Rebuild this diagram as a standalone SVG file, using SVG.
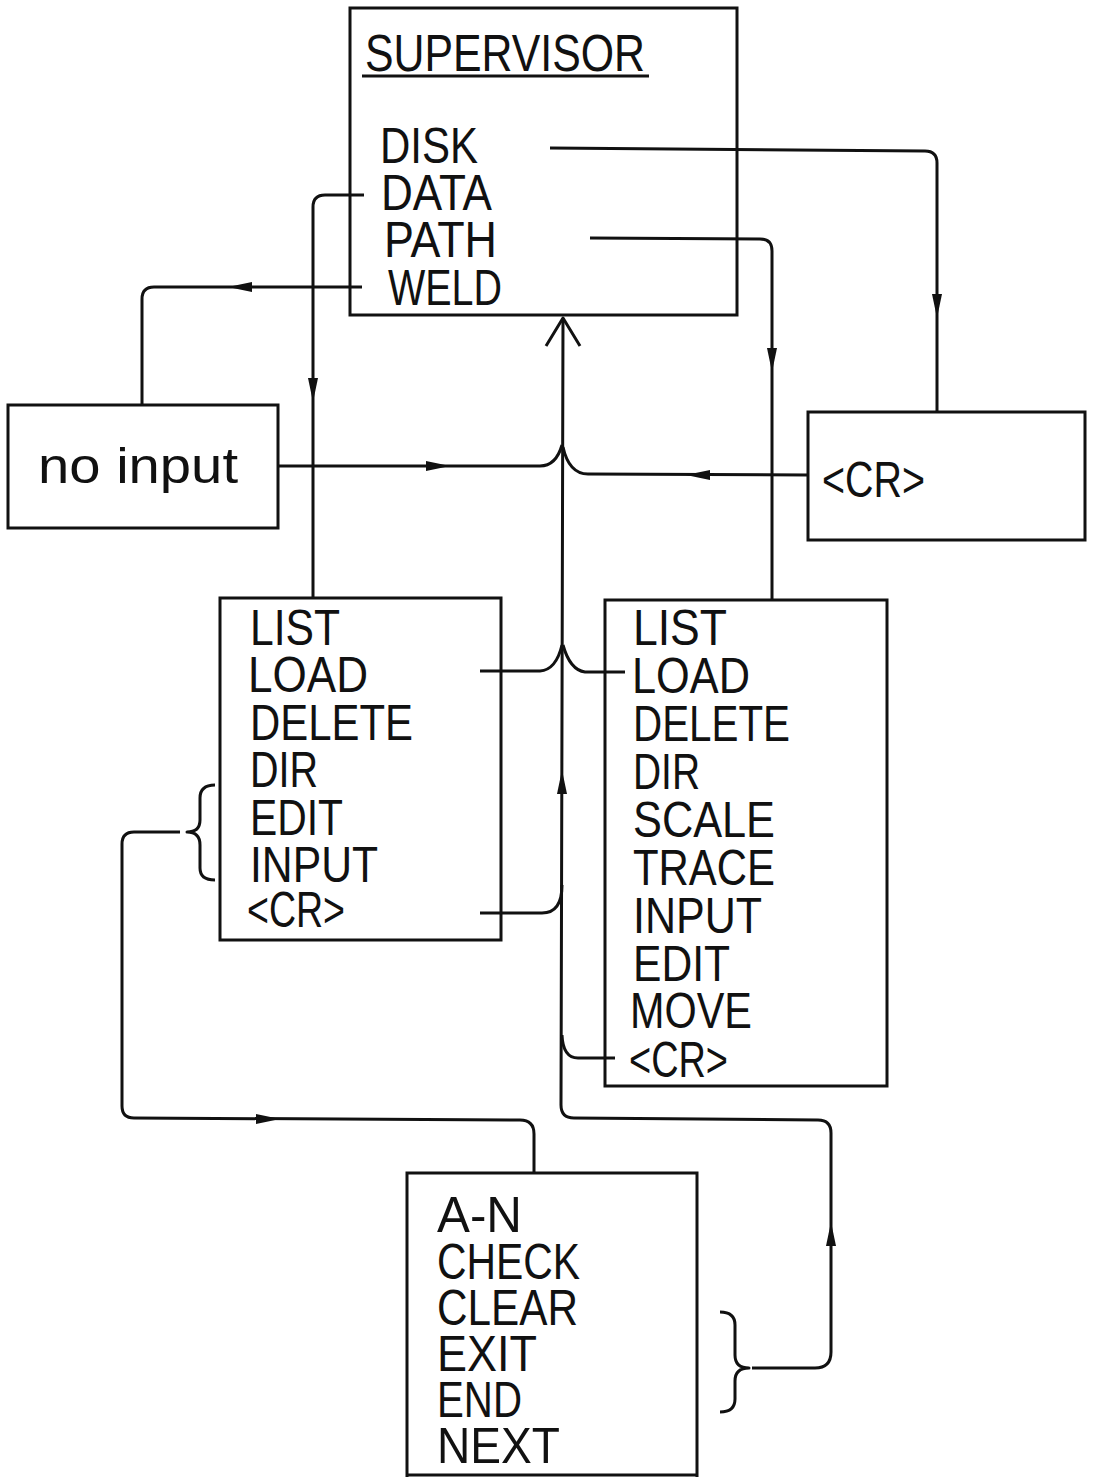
<svg xmlns="http://www.w3.org/2000/svg" xmlns:xlink="http://www.w3.org/1999/xlink" width="1093" height="1477" viewBox="0 0 1093 1477">
<style>
.box{fill:none;stroke:#111;stroke-width:3}
.ln{fill:none;stroke:#111;stroke-width:3;stroke-linejoin:round}
.t{font-family:"Liberation Sans","DejaVu Sans",sans-serif;font-size:50px;fill:#111}
.h{font-size:52px}
.ah{fill:#111}
</style>
<defs>
<path id="ah" d="M0,0 L-24,-5 L-24,5 Z"/>
</defs>
<rect width="1093" height="1477" fill="#fff"/>
<g id="supervisor">
<rect class="box" x="350" y="8" width="387" height="307"/>
<text class="t h" x="365" y="71" textLength="280" lengthAdjust="spacingAndGlyphs">SUPERVISOR</text>
<line class="ln" x1="362" y1="76" x2="649" y2="76"/>
<text class="t" x="380" y="163" textLength="98" lengthAdjust="spacingAndGlyphs">DISK</text>
<text class="t" x="381" y="210" textLength="111" lengthAdjust="spacingAndGlyphs">DATA</text>
<text class="t" x="384" y="257" textLength="113" lengthAdjust="spacingAndGlyphs">PATH</text>
<text class="t" x="388" y="305" textLength="114" lengthAdjust="spacingAndGlyphs">WELD</text>
</g>
<g id="no-input">
<rect class="box" x="8" y="405" width="270" height="123"/>
<text class="t" x="38" y="483" textLength="200" lengthAdjust="spacingAndGlyphs">no input</text>
</g>
<g id="cr">
<rect class="box" x="808" y="412" width="277" height="128"/>
<text class="t" x="822" y="497" textLength="103" lengthAdjust="spacingAndGlyphs">&lt;CR&gt;</text>
</g>
<g id="data-menu">
<rect class="box" x="220" y="598" width="281" height="342"/>
<text class="t" x="250" y="645" textLength="90" lengthAdjust="spacingAndGlyphs">LIST</text>
<text class="t" x="248" y="692" textLength="120" lengthAdjust="spacingAndGlyphs">LOAD</text>
<text class="t" x="250" y="740" textLength="163" lengthAdjust="spacingAndGlyphs">DELETE</text>
<text class="t" x="250" y="787" textLength="68" lengthAdjust="spacingAndGlyphs">DIR</text>
<text class="t" x="250" y="835" textLength="93" lengthAdjust="spacingAndGlyphs">EDIT</text>
<text class="t" x="250" y="882" textLength="128" lengthAdjust="spacingAndGlyphs">INPUT</text>
<text class="t" x="247" y="927" textLength="98" lengthAdjust="spacingAndGlyphs">&lt;CR&gt;</text>
<path class="ln" d="M215,785 Q200,785 200,798 L200,820 Q200,832 187,832 Q200,832 200,845 L200,868 Q200,880 215,880"/>
</g>
<g id="path-menu">
<rect class="box" x="605" y="600" width="282" height="486"/>
<text class="t" x="633" y="645" textLength="94" lengthAdjust="spacingAndGlyphs">LIST</text>
<text class="t" x="632" y="693" textLength="118" lengthAdjust="spacingAndGlyphs">LOAD</text>
<text class="t" x="633" y="741" textLength="157" lengthAdjust="spacingAndGlyphs">DELETE</text>
<text class="t" x="633" y="789" textLength="67" lengthAdjust="spacingAndGlyphs">DIR</text>
<text class="t" x="633" y="837" textLength="142" lengthAdjust="spacingAndGlyphs">SCALE</text>
<text class="t" x="633" y="885" textLength="142" lengthAdjust="spacingAndGlyphs">TRACE</text>
<text class="t" x="633" y="933" textLength="129" lengthAdjust="spacingAndGlyphs">INPUT</text>
<text class="t" x="633" y="981" textLength="97" lengthAdjust="spacingAndGlyphs">EDIT</text>
<text class="t" x="630" y="1028" textLength="122" lengthAdjust="spacingAndGlyphs">MOVE</text>
<text class="t" x="629" y="1077" textLength="99" lengthAdjust="spacingAndGlyphs">&lt;CR&gt;</text>
</g>
<g id="edit-menu">
<polyline class="box" points="407,1477 407,1173 697,1173 697,1477"/>
<line class="ln" x1="407" y1="1475" x2="697" y2="1475"/>
<text class="t" x="437" y="1232" textLength="85" lengthAdjust="spacingAndGlyphs">A-N</text>
<text class="t" x="437" y="1279" textLength="143" lengthAdjust="spacingAndGlyphs">CHECK</text>
<text class="t" x="437" y="1325" textLength="141" lengthAdjust="spacingAndGlyphs">CLEAR</text>
<text class="t" x="437" y="1371" textLength="100" lengthAdjust="spacingAndGlyphs">EXIT</text>
<text class="t" x="437" y="1417" textLength="85" lengthAdjust="spacingAndGlyphs">END</text>
<text class="t" x="437" y="1463" textLength="123" lengthAdjust="spacingAndGlyphs">NEXT</text>
<path class="ln" d="M720,1312 Q735,1312 735,1325 L735,1355 Q735,1368 749,1368 Q735,1368 735,1381 L735,1399 Q735,1412 720,1412"/>
</g>
<g id="connectors">
<path class="ln" d="M550,148 L925,151 Q937,151 937,163 L937,412"/>
<path class="ln" d="M590,238 L760,239 Q772,239 772,251 L772,600"/>
<path class="ln" d="M364,195 L325,195 Q313,195 313,207 L313,598"/>
<path class="ln" d="M362,287 L154,287 Q142,287 142,299 L142,405"/>
<path class="ln" d="M563,318 L561,1105 Q561,1118 574,1118 L818,1120 Q831,1120 831,1133 L831,1352 Q831,1368 815,1368 L752,1368"/>
<path class="ln" d="M546,346 L563,318 L580,346"/>
<path class="ln" d="M278,466 L540,466 Q556,466 562,445"/>
<path class="ln" d="M808,475 L588,474 Q569,474 563,447"/>
<path class="ln" d="M480,671 L540,671 Q556,670 562,645"/>
<path class="ln" d="M625,672 L585,672 Q570,670 563,645"/>
<path class="ln" d="M480,913 L542,913 Q562,913 562,885"/>
<path class="ln" d="M615,1058 L578,1058 Q563,1058 562,1035"/>
<path class="ln" d="M180,832 L134,832 Q122,832 122,844 L122,1106 Q122,1118 134,1118 L520,1120 Q534,1120 534,1134 L534,1173"/>
<g class="ah">
<use xlink:href="#ah" transform="translate(937,318) rotate(90)"/>
<use xlink:href="#ah" transform="translate(772,372) rotate(90)"/>
<use xlink:href="#ah" transform="translate(313,402) rotate(90)"/>
<use xlink:href="#ah" transform="translate(228,287) rotate(180)"/>
<use xlink:href="#ah" transform="translate(450,466)"/>
<use xlink:href="#ah" transform="translate(686,475) rotate(180)"/>
<use xlink:href="#ah" transform="translate(562,770) rotate(-90)"/>
<use xlink:href="#ah" transform="translate(280,1119)"/>
<use xlink:href="#ah" transform="translate(831,1222) rotate(-90)"/>
</g>
</g>
</svg>
